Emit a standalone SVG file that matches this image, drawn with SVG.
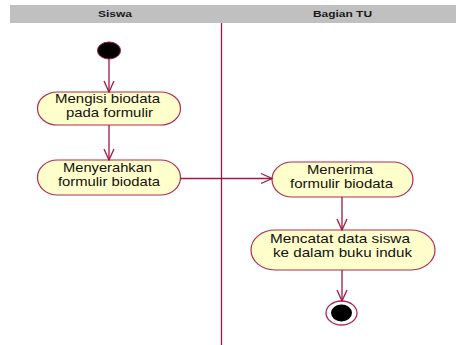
<svg xmlns="http://www.w3.org/2000/svg" width="456" height="345" viewBox="0 0 456 345">
  <defs>
    <marker id="open-arrow" markerWidth="13" markerHeight="13" refX="12" refY="6.5" orient="auto" markerUnits="userSpaceOnUse">
      <path d="M1,1.5 L12,6.5 L1,11.5" fill="none" stroke="#9e1844" stroke-width="1.3"/>
    </marker>
  </defs>
  <style>
    .lane-head { fill: #c0c0c0; }
    .lane-title { font-family: "Liberation Sans", Arial, sans-serif; font-weight: bold; font-size: 8.5px; fill: #1a1a1a; }
    .divider { stroke: #9e1844; stroke-width: 1.3; }
    .activity { fill: #ffffcc; stroke: #b02a55; stroke-width: 1.2; }
    .label { font-family: "Liberation Sans", Arial, sans-serif; font-size: 13px; fill: #111; }
    .flow { stroke: #9e1844; stroke-width: 1.3; fill: none; marker-end: url(#open-arrow); }
  </style>

  <!-- swimlane header -->
  <g id="lanes">
    <rect class="lane-head" x="10" y="5" width="446" height="18"/>
    <text class="lane-title" x="98" y="17" textLength="34" lengthAdjust="spacingAndGlyphs">Siswa</text>
    <text class="lane-title" x="313" y="17" textLength="59" lengthAdjust="spacingAndGlyphs">Bagian TU</text>
    <line class="divider" x1="221.5" y1="23" x2="221.5" y2="345"/>
  </g>

  <g id="start">
    <ellipse cx="109" cy="50.5" rx="11.5" ry="8.5" fill="#000" stroke="#9e1844" stroke-width="1"/>
  </g>

  <g id="mengisi-biodata">
    <rect class="activity" x="37.5" y="92" width="143" height="33" rx="20" ry="16.5"/>
    <text class="label" x="55" y="103" textLength="105" lengthAdjust="spacingAndGlyphs">Mengisi biodata</text>
    <text class="label" x="66" y="116.5" textLength="87" lengthAdjust="spacingAndGlyphs">pada formulir</text>
  </g>

  <g id="menyerahkan-formulir">
    <rect class="activity" x="37.5" y="160" width="143" height="35" rx="20" ry="17.5"/>
    <text class="label" x="63" y="172" textLength="89" lengthAdjust="spacingAndGlyphs">Menyerahkan</text>
    <text class="label" x="58" y="186" textLength="102" lengthAdjust="spacingAndGlyphs">formulir biodata</text>
  </g>

  <g id="menerima-formulir">
    <rect class="activity" x="272" y="162" width="141" height="35" rx="20" ry="17.5"/>
    <text class="label" x="307" y="174" textLength="66" lengthAdjust="spacingAndGlyphs">Menerima</text>
    <text class="label" x="290" y="187.5" textLength="103" lengthAdjust="spacingAndGlyphs">formulir biodata</text>
  </g>

  <g id="mencatat-data">
    <rect class="activity" x="251" y="230" width="184" height="40" rx="24" ry="20"/>
    <text class="label" x="270" y="243" textLength="140" lengthAdjust="spacingAndGlyphs">Mencatat data siswa</text>
    <text class="label" x="273" y="257" textLength="139" lengthAdjust="spacingAndGlyphs">ke dalam buku induk</text>
  </g>

  <g id="end">
    <ellipse cx="341.5" cy="313" rx="15.5" ry="12" fill="#fff" stroke="#b02a55" stroke-width="1.3"/>
    <ellipse cx="341.5" cy="313" rx="10.5" ry="8.5" fill="#000"/>
  </g>

  <!-- control flows -->
  <g id="connectors">
    <line class="flow" x1="109" y1="59" x2="109" y2="92"/>
    <line class="flow" x1="109" y1="125" x2="109" y2="160"/>
    <line class="flow" x1="180.5" y1="178.5" x2="272" y2="178.5"/>
    <line class="flow" x1="342" y1="197" x2="342" y2="230"/>
    <line class="flow" x1="342" y1="270" x2="342" y2="301"/>
  </g>
</svg>
